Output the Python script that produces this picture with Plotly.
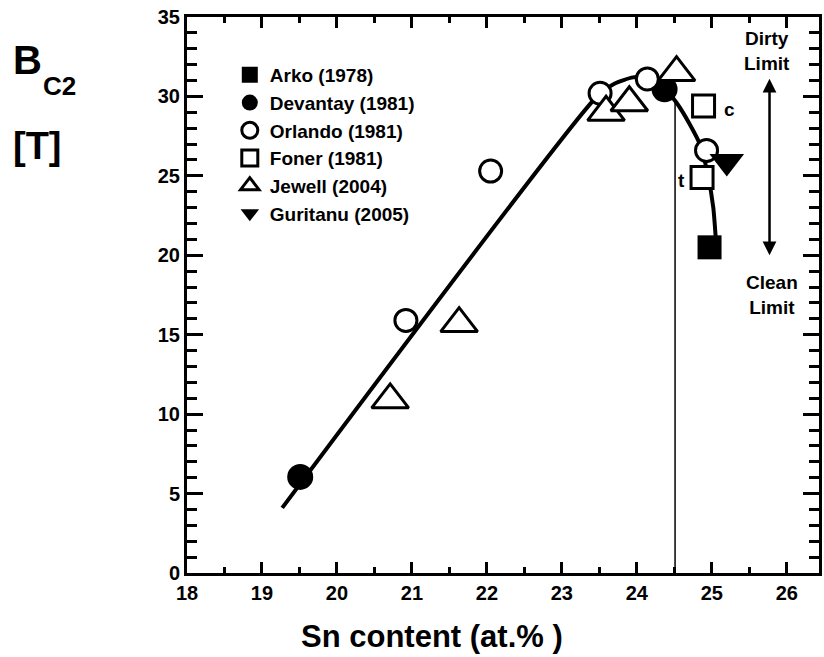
import plotly.graph_objects as go

# ---------------- data ----------------
arko_x = [24.97]
arko_y = [20.5]

devantay_x = [19.51, 24.37]
devantay_y = [6.05, 30.45]

orlando_x = [20.92, 22.05, 23.51, 24.14, 24.93]
orlando_y = [15.9, 25.3, 30.2, 31.1, 26.6]

foner_x = [24.89, 24.87]
foner_y = [29.4, 24.9]
foner_labels = ["c", "t"]

jewell_x = [20.71, 21.63, 23.59, 23.90, 24.53]
jewell_y = [10.9, 15.7, 29.0, 29.6, 31.5]

guritanu_x = [25.2]
guritanu_y = [25.9]

fit_x = [19.27, 23.45, 23.70, 23.95, 24.15, 24.37, 24.53, 24.70, 24.85, 24.95, 25.02, 25.06]
fit_y = [4.1, 29.9, 30.8, 31.2, 31.2, 30.5, 29.6, 28.3, 26.9, 25.0, 23.0, 20.6]

vline_x = [24.51, 24.51]
vline_y = [0, 29.8]

x_ticks = [18, 19, 20, 21, 22, 23, 24, 25, 26]
y_ticks = [0, 5, 10, 15, 20, 25, 30, 35]

FONT = "Liberation Sans, Arial, sans-serif"
NB = "\u00a0"

fig = go.Figure()
lw = 3
fig.add_trace(go.Scatter(x=fit_x, y=fit_y, mode="lines",
                         line=dict(color="black", width=4, shape="spline", smoothing=0.6),
                         showlegend=False, hoverinfo="skip"))
fig.add_trace(go.Scatter(x=vline_x, y=vline_y, mode="lines",
                         line=dict(color="black", width=1.5), showlegend=False, hoverinfo="skip"))
fig.add_trace(go.Scatter(x=arko_x, y=arko_y, mode="markers", name="Arko (1978)",
                         marker=dict(symbol="square", size=24, color="black")))
fig.add_trace(go.Scatter(x=devantay_x, y=devantay_y, mode="markers", name="Devantay (1981)",
                         marker=dict(symbol="circle", size=26, color="black")))
fig.add_trace(go.Scatter(x=orlando_x, y=orlando_y, mode="markers", name="Orlando (1981)",
                         marker=dict(symbol="circle", size=22, color="white",
                                     line=dict(color="black", width=lw))))
fig.add_trace(go.Scatter(x=foner_x, y=foner_y, mode="markers", name="Foner (1981)",
                         marker=dict(symbol="square", size=22, color="white",
                                     line=dict(color="black", width=lw))))
fig.add_trace(go.Scatter(x=jewell_x, y=jewell_y, mode="markers", name="Jewell (2004)",
                         marker=dict(symbol="triangle-up", size=32, color="white",
                                     line=dict(color="black", width=lw))))
fig.add_trace(go.Scatter(x=guritanu_x, y=guritanu_y, mode="markers", name="Guritanu (2005)",
                         marker=dict(symbol="triangle-down", size=30, color="black")))

L, R, T, B = 187, 2, 17, 84
W, H = 824, 657
pw, ph = W - L - R, H - T - B


def px(xp):
    return (xp - L) / pw


def py(yp):
    return (H - B - yp) / ph


BOLD = dict(family=FONT, color="black", weight="bold")
annotations = []
for xx, yy, lab in zip(foner_x, foner_y, foner_labels):
    dx = 0.35 if lab == "c" else -0.27
    annotations.append(dict(x=xx + dx, y=yy - 0.2, xref="x", yref="y", text=lab,
                            showarrow=False, font=dict(BOLD, size=19)))
annotations.append(dict(x=25.73, y=32.85, xref="x", yref="y", text="Dirty<br>Limit",
                        showarrow=False, align="center", font=dict(BOLD, size=19)))
annotations.append(dict(x=25.8, y=17.5, xref="x", yref="y", text="Clean<br>Limit",
                        showarrow=False, align="center", font=dict(BOLD, size=19)))
annotations.append(dict(x=25.77, y=20.0, ax=25.77, ay=31.2, xref="x", yref="y",
                        axref="x", ayref="y", text="", showarrow=True,
                        arrowhead=2, startarrowhead=2, arrowside="end+start",
                        arrowsize=1.1, startarrowsize=1.1, arrowwidth=2.5, arrowcolor="black"))
annotations.append(dict(x=px(10), y=py(60), xref="paper", yref="paper", text="B",
                        xanchor="left", yanchor="middle", showarrow=False, font=dict(BOLD, size=40)))
annotations.append(dict(x=px(40), y=py(86), xref="paper", yref="paper", text="C2",
                        xanchor="left", yanchor="middle", showarrow=False, font=dict(BOLD, size=26)))
annotations.append(dict(x=px(10), y=py(146), xref="paper", yref="paper", text="[T]",
                        xanchor="left", yanchor="middle", showarrow=False, font=dict(BOLD, size=38)))
annotations.append(dict(x=px(433), y=py(636), xref="paper", yref="paper",
                        text="Sn content (at.% )", xanchor="center", yanchor="middle",
                        showarrow=False, font=dict(BOLD, size=31)))

fig.update_layout(width=W, height=H, margin=dict(l=L, r=R, t=T, b=B),
                  paper_bgcolor="white", plot_bgcolor="white",
                  legend=dict(x=px(230), y=py(56), xanchor="left", yanchor="top",
                              bgcolor="rgba(0,0,0,0)", font=dict(BOLD, size=19)),
                  annotations=annotations)

fig.update_xaxes(range=[18, 26.43], tickmode="array", tickvals=x_ticks,
                 showgrid=False, zeroline=False,
                 showline=True, linecolor="black", linewidth=3, mirror="allticks",
                 ticks="inside", ticklen=11, tickwidth=3, tickcolor="black",
                 minor=dict(tickmode="linear", tick0=18, dtick=0.5, ticks="inside",
                            ticklen=6, tickwidth=3, tickcolor="black", showgrid=False),
                 tickfont=dict(family=FONT, size=20, color="black", weight="bold"))
fig.update_yaxes(range=[0, 35], tickvals=y_ticks, ticksuffix=NB * 3,
                 showgrid=False, zeroline=False,
                 showline=True, linecolor="black", linewidth=3, mirror="allticks",
                 ticks="inside", ticklen=16, tickwidth=3, tickcolor="black",
                 minor=dict(dtick=1, ticks="inside", ticklen=10, tickwidth=3,
                            tickcolor="black", showgrid=False),
                 tickfont=dict(family=FONT, size=20, color="black", weight="bold"))

fig.write_html("out.html")
